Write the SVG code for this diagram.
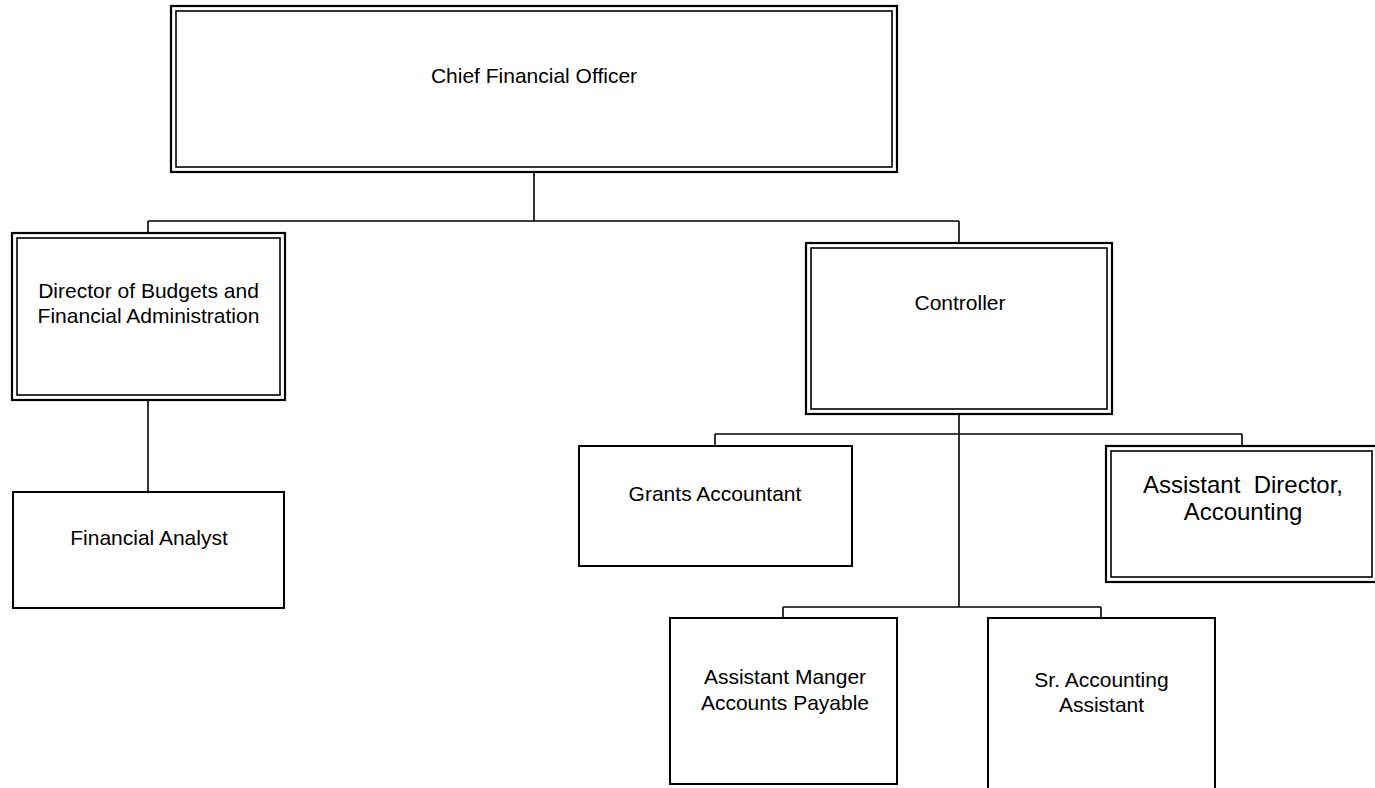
<svg xmlns="http://www.w3.org/2000/svg" width="1375" height="788" viewBox="0 0 1375 788">
<style>
.o{fill:#fff;stroke:#000;stroke-width:2.2}
.i{fill:none;stroke:#000;stroke-width:1.6}
.s{fill:#fff;stroke:#000;stroke-width:2}
.c{fill:none;stroke:#000;stroke-width:1.6}
text{font-family:"Liberation Sans",Arial,sans-serif;font-size:21px;fill:#000;text-anchor:middle}
</style>
<rect width="1375" height="788" fill="#fff"/>
<g id="connectors">
<path class="c" d="M534 172V221M148 221H959M148 221V233M959 221V243"/>
<path class="c" d="M148 400V492"/>
<path class="c" d="M959 414V607M715 434H1242M715 434V446M1242 434V446"/>
<path class="c" d="M783 607H1101M783 607V618M1101 607V618"/>
</g>
<g id="cfo">
<rect class="o" x="171" y="6" width="726" height="166"/>
<rect class="i" x="176" y="11" width="716" height="156"/>
<text x="534" y="83">Chief Financial Officer</text>
</g>
<g id="director">
<rect class="o" x="12" y="233" width="273" height="167"/>
<rect class="i" x="17" y="238" width="263" height="157"/>
<text x="148.5" y="298">Director of Budgets and</text>
<text x="148.5" y="323">Financial Administration</text>
</g>
<g id="analyst">
<rect class="s" x="13" y="492" width="271" height="116"/>
<text x="149" y="545">Financial Analyst</text>
</g>
<g id="controller">
<rect class="o" x="806" y="243" width="306" height="171"/>
<rect class="i" x="811" y="248" width="296" height="161"/>
<text x="960" y="310">Controller</text>
</g>
<g id="grants">
<rect class="s" x="579" y="446" width="273" height="120"/>
<text x="715" y="501">Grants Accountant</text>
</g>
<g id="asstdirector">
<rect class="o" x="1106" y="446" width="272" height="136"/>
<rect class="i" x="1111" y="451" width="261" height="126"/>
<text x="1243" y="493" font-size="24" xml:space="preserve" style="font-size:24px">Assistant  Director,</text>
<text x="1243" y="520" style="font-size:24px">Accounting</text>
</g>
<g id="apmanager">
<rect class="s" x="670" y="618" width="227" height="166"/>
<text x="785" y="684">Assistant Manger</text>
<text x="785" y="710">Accounts Payable</text>
</g>
<g id="sraccounting">
<rect class="s" x="988" y="618" width="227" height="172"/>
<text x="1101.5" y="687">Sr. Accounting</text>
<text x="1101.5" y="712">Assistant</text>
</g>
</svg>
